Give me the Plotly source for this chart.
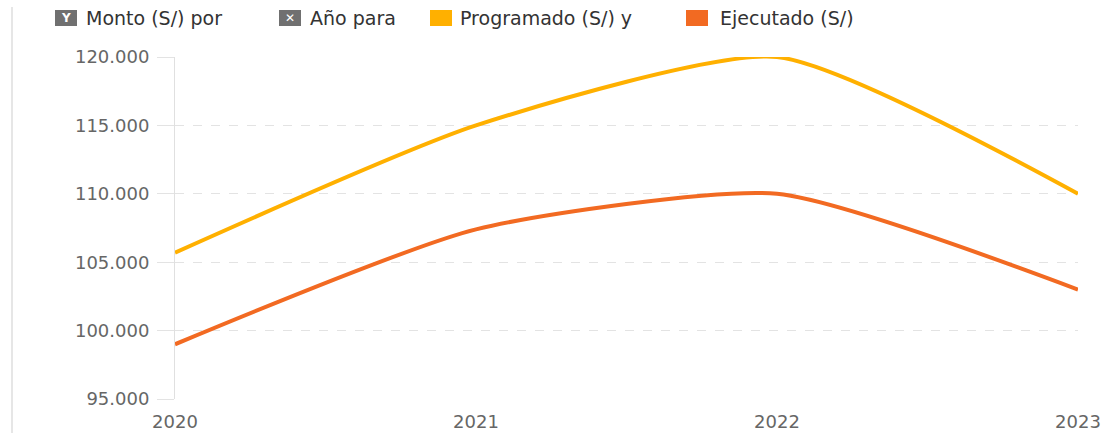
import plotly.graph_objects as go

years = [2020, 2021, 2022, 2023]
programado = [105700, 115000, 120000, 110000]
ejecutado = [99000, 107400, 110000, 103000]
y_ticks = [95000, 100000, 105000, 110000, 115000, 120000]

C_PROG = "#FFB000"
C_EJEC = "#F26A22"

L, R, T, B = 175, 32, 57, 37
W, H = 1110, 436
PW, PH = W - L - R, H - T - B


def px(x):
    return (x - L) / PW


def py(y):
    return (H - B - y) / PH


fig = go.Figure()
fig.add_trace(go.Scatter(x=years, y=programado, mode="lines", name="Programado (S/)",
                         line=dict(color=C_PROG, width=4, shape="spline", smoothing=0.6),
                         cliponaxis=False, hoverinfo="x+y"))
fig.add_trace(go.Scatter(x=years, y=ejecutado, mode="lines", name="Ejecutado (S/)",
                         line=dict(color=C_EJEC, width=4, shape="spline", smoothing=0.6),
                         cliponaxis=False, hoverinfo="x+y"))

font = "DejaVu Sans"
fig.update_layout(
    width=W, height=H,
    margin=dict(l=L, r=R, t=T, b=B, pad=0, autoexpand=False),
    paper_bgcolor="white", plot_bgcolor="white",
    showlegend=False,
    separators=",.",
    font=dict(family=font, size=16, color="#666666"),
    xaxis=dict(
        tickmode="array", tickvals=years, ticktext=[str(y) for y in years],
        range=[2020, 2023], showgrid=False, zeroline=False, automargin=False,
        showline=False, ticks="", tickfont=dict(size=18, color="#666666"),
        ticklabelstandoff=10,
    ),
    yaxis=dict(
        tickmode="array", tickvals=y_ticks, tickformat=",d", automargin=False,
        range=[95000, 120000], showgrid=True, gridcolor="#e3e3e3",
        griddash="dash", gridwidth=1, zeroline=False,
        showline=True, linecolor="#e0e0e0", linewidth=1,
        ticks="outside", ticklen=17, tickcolor="#e3e3e3",
        tickfont=dict(size=18, color="#666666"), ticklabelstandoff=4,
    ),
)

shapes = []
annotations = []

# left border line
shapes.append(dict(type="line", xref="paper", yref="paper",
                   x0=px(12), x1=px(12), y0=py(7), y1=py(433),
                   line=dict(color="#e6e6e6", width=2)))

ly = py(18)


def box(x0, x1, color, letter=None):
    shapes.append(dict(type="rect", xref="paper", yref="paper",
                       x0=px(x0), x1=px(x1), y0=py(26), y1=py(10),
                       fillcolor=color, line=dict(width=0), layer="above"))
    if letter:
        annotations.append(dict(xref="paper", yref="paper", x=px((x0 + x1) / 2), y=ly,
                                text=letter, showarrow=False, xanchor="center", yanchor="middle",
                                font=dict(family=font, size=12, color="white")))


def txt(x, s):
    annotations.append(dict(xref="paper", yref="paper", x=px(x), y=ly, text=s,
                            showarrow=False, xanchor="left", yanchor="middle",
                            font=dict(family=font, size=19, color="#333333")))


box(55, 77, "#707070", "<b>Y</b>")
txt(84, "Monto (S/) por")
box(279, 301, "#707070", "<b>✕</b>")
txt(308, "Año para")
box(430, 452, C_PROG)
txt(458, "Programado (S/) y")
box(686, 708, C_EJEC)
txt(718, "Ejecutado (S/)")

fig.update_layout(shapes=shapes, annotations=annotations)
fig.write_html("out.html", config={"displayModeBar": False},
               post_script="document.body.style.margin='0';document.body.style.overflow='hidden';")
